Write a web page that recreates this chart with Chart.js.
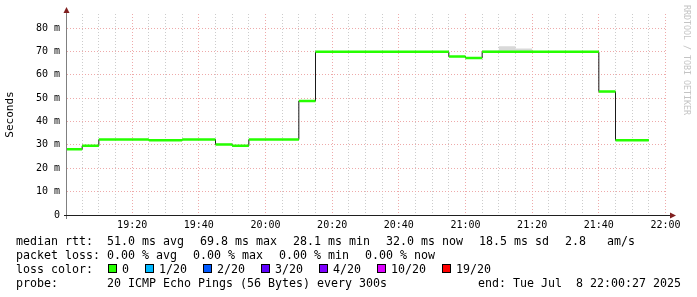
<!DOCTYPE html>
<html>
<head>
<meta charset="utf-8">
<script src="https://cdn.jsdelivr.net/npm/chart.js@4/dist/chart.umd.min.js"></script>
<style>
  html, body { margin: 0; padding: 0; background: #fff; }
  #wrap { position: relative; width: 697px; height: 297px; overflow: hidden; background: #fff; }
  #chart { position: absolute; left: 0; top: 0; }
  .t { position: absolute; font-family: "DejaVu Sans Mono", monospace; font-size: 11.63px;
       line-height: 14px; white-space: pre; color: #000; }
  .sq { position: absolute; width: 7px; height: 7px; border: 1px solid #000; }
</style>
</head>
<body>
<div id="wrap">
  <canvas id="chart" width="697" height="297"></canvas>

  <div class="t" style="left:16px;top:234px">median rtt:</div>
  <div class="t" style="left:107px;top:234px">51.0 ms avg</div>
  <div class="t" style="left:200px;top:234px">69.8 ms max</div>
  <div class="t" style="left:293px;top:234px">28.1 ms min</div>
  <div class="t" style="left:386px;top:234px">32.0 ms now</div>
  <div class="t" style="left:479px;top:234px">18.5 ms sd</div>
  <div class="t" style="left:565px;top:234px">2.8   am/s</div>

  <div class="t" style="left:16px;top:248px">packet loss:</div>
  <div class="t" style="left:107px;top:248px">0.00 % avg</div>
  <div class="t" style="left:193px;top:248px">0.00 % max</div>
  <div class="t" style="left:279px;top:248px">0.00 % min</div>
  <div class="t" style="left:365px;top:248px">0.00 % now</div>

  <div class="t" style="left:16px;top:262px">loss color:</div>
  <div id="loss"></div>

  <div class="t" style="left:16px;top:276px">probe:</div>
  <div class="t" style="left:107px;top:276px">20 ICMP Echo Pings (56 Bytes) every 300s</div>
  <div class="t" style="right:16px;top:276px">end: Tue Jul  8 22:00:27 2025</div>
</div>

<script>
'use strict'

// 5 minute bins, median rtt in ms
const binTimes = [
  '19:00', '19:05', '19:10', '19:15', '19:20', '19:25', '19:30', '19:35', '19:40', '19:45',
  '19:50', '19:55', '20:00', '20:05', '20:10', '20:15', '20:20', '20:25', '20:30', '20:35',
  '20:40', '20:45', '20:50', '20:55', '21:00', '21:05', '21:10', '21:15', '21:20', '21:25',
  '21:30', '21:35', '21:40', '21:45', '21:50'
]
const medianRtt = [
  28.1, 29.6, 32.3, 32.3, 32.3, 32.0, 32.0, 32.3, 32.3, 30.2,
  29.6, 32.3, 32.3, 32.3, 48.8, 69.8, 69.8, 69.8, 69.8, 69.8,
  69.8, 69.8, 69.8, 67.8, 67.2, 69.8, 69.8, 69.8, 69.8, 69.8,
  69.8, 69.8, 52.8, 32.0, 32.0
]
// top of the grey smoke (slowest ping), mostly hidden behind the median
const smokeTop = [
  28.1, 29.6, 32.3, 32.3, 32.3, 32.4, 32.4, 32.3, 32.3, 30.2,
  29.6, 32.3, 32.3, 32.3, 48.8, 69.8, 69.8, 69.8, 69.8, 69.8,
  69.8, 69.8, 69.8, 67.8, 67.2, 70.4, 72.2, 71.2, 69.8, 69.8,
  69.8, 69.8, 52.8, 32.0, 32.0
]

const xTickLabels = ['19:20', '19:40', '20:00', '20:20', '20:40', '21:00', '21:20', '21:40', '22:00']
const yTickValues = [0, 10, 20, 30, 40, 50, 60, 70, 80]
const yTickLabels = ['0', '10 m', '20 m', '30 m', '40 m', '50 m', '60 m', '70 m', '80 m']

const lossLabels = ['0', '1/20', '2/20', '3/20', '4/20', '10/20', '19/20']
const lossColors = ['#26ff00', '#00b8ff', '#0059ff', '#5e00ff', '#7e00ff', '#dd00ff', '#ff0000']

const endTime = '22:00:27'
const binMinutes = 5
const spanMinutes = 180
const yMax = 86

// legend box x positions
const lossBoxX = [108, 145, 203, 261, 319, 377, 442]

const MGRID = '#eeaaaa'
const GRID = '#cccccc'

const toMin = s => {
  const p = s.split(':').map(Number)
  return p[0] * 60 + p[1] + (p[2] || 0) / 60
}
const fmtMin = v => {
  const h = Math.floor(v / 60)
  const m = Math.round(v - h * 60)
  return h + ':' + String(m).padStart(2, '0')
}

const xMax = toMin(endTime)
const xMin = xMax - spanMinutes
const starts = binTimes.map(toMin)
const labelled = xTickLabels.map(toMin)

const stepPoints = vals => {
  const pts = starts.map((x, i) => ({ x, y: vals[i] }))
  pts.push({ x: starts[starts.length - 1] + binMinutes, y: vals[vals.length - 1] })
  return pts
}
// horizontal pieces only, so the green never runs down the step edges
const piecePoints = vals => starts.flatMap((x, i) => [
  { x, y: vals[i] },
  { x: x + binMinutes, y: vals[i] },
  { x: x + binMinutes, y: null }
])

const gridMinutes = []
for (let m = Math.ceil(xMin / binMinutes) * binMinutes; m <= xMax; m += binMinutes)
  gridMinutes.push(m)

const rrdAxes = {
  id: 'rrdAxes',
  afterDraw: chart => {
    const { ctx, chartArea: a } = chart
    ctx.save()

    ctx.lineWidth = 1
    ctx.strokeStyle = '#808080'
    ctx.beginPath()
    ctx.moveTo(a.left - 0.5, a.bottom + 4)
    ctx.lineTo(a.left - 0.5, a.top - 5)
    ctx.stroke()

    ctx.strokeStyle = '#1f1f1f'
    ctx.beginPath()
    ctx.moveTo(a.left - 3, a.bottom + 0.5)
    ctx.lineTo(a.right + 3, a.bottom + 0.5)
    ctx.stroke()

    ctx.fillStyle = '#801f1f'
    ctx.beginPath()
    ctx.moveTo(a.right + 3, a.bottom - 2.5)
    ctx.lineTo(a.right + 9, a.bottom + 0.5)
    ctx.lineTo(a.right + 3, a.bottom + 3.5)
    ctx.closePath()
    ctx.fill()

    ctx.beginPath()
    ctx.moveTo(a.left - 3.5, a.top - 1)
    ctx.lineTo(a.left - 0.5, a.top - 7)
    ctx.lineTo(a.left + 2.5, a.top - 1)
    ctx.closePath()
    ctx.fill()

    ctx.fillStyle = '#c4c4c4'
    ctx.font = '8.3px "DejaVu Sans Mono"'
    ctx.textBaseline = 'middle'
    ctx.textAlign = 'left'
    ctx.translate(686, 5)
    ctx.rotate(Math.PI / 2)
    ctx.fillText('RRDTOOL / TOBI OETIKER', 0, 0)

    ctx.restore()
  }
}

const tickFont = { family: 'DejaVu Sans Mono', size: 10 }

new Chart(document.getElementById('chart').getContext('2d'), {
  type: 'line',
  data: {
    datasets: [
      {
        label: 'median',
        data: piecePoints(medianRtt),
        borderColor: lossColors[0],
        borderWidth: 2.5,
        borderCapStyle: 'butt',
        pointRadius: 0,
        spanGaps: false,
        fill: false
      },
      {
        label: 'edges',
        data: stepPoints(medianRtt),
        stepped: true,
        borderColor: '#1a1a1a',
        borderWidth: 1,
        pointRadius: 0,
        fill: false
      },
      {
        label: 'smoke',
        data: stepPoints(smokeTop),
        stepped: true,
        borderWidth: 0,
        borderColor: 'rgba(0,0,0,0)',
        backgroundColor: '#d9d9d9',
        pointRadius: 0,
        fill: 1
      }
    ]
  },
  options: {
    responsive: false,
    animation: false,
    events: [],
    layout: { padding: { top: 14, right: 30, left: 0, bottom: 0 } },
    plugins: {
      legend: { display: false },
      tooltip: { enabled: false }
    },
    scales: {
      x: {
        type: 'linear',
        min: xMin,
        max: xMax,
        afterFit: s => { s.height = 82 },
        afterBuildTicks: s => { s.ticks = gridMinutes.map(value => ({ value })) },
        grid: {
          color: c => labelled.includes(c.tick.value) ? MGRID : GRID,
          lineWidth: 1,
          drawTicks: false,
          borderDash: [1, 2]
        },
        border: { display: false, dash: [1, 2] },
        ticks: {
          autoSkip: false,
          maxRotation: 0,
          padding: 4.5,
          color: '#000',
          font: tickFont,
          callback: v => labelled.includes(v) ? fmtMin(v) : ''
        }
      },
      y: {
        min: 0,
        max: yMax,
        afterFit: s => { s.width = 67 },
        afterBuildTicks: s => {
          const t = []
          for (let v = 0; v < yMax; v += 5) t.push({ value: v })
          s.ticks = t
        },
        grid: {
          color: c => yTickValues.includes(c.tick.value) ? MGRID : GRID,
          lineWidth: 1,
          drawTicks: false,
          borderDash: [1, 2]
        },
        border: { display: false, dash: [1, 2] },
        title: {
          display: true,
          text: 'Seconds',
          color: '#000',
          font: { family: 'DejaVu Sans Mono', size: 11 },
          padding: { top: 3.5, bottom: 0 }
        },
        ticks: {
          padding: 7,
          color: '#000',
          font: tickFont,
          callback: v => {
            const i = yTickValues.indexOf(v)
            return i >= 0 ? yTickLabels[i] : ''
          }
        }
      }
    }
  },
  plugins: [rrdAxes]
})

// loss colour legend boxes
const loss = document.getElementById('loss')
lossLabels.forEach((label, i) => {
  const box = document.createElement('div')
  box.className = 'sq'
  box.style.left = lossBoxX[i] + 'px'
  box.style.top = '264px'
  box.style.background = lossColors[i]
  loss.appendChild(box)

  const txt = document.createElement('div')
  txt.className = 't'
  txt.style.left = (lossBoxX[i] + 14) + 'px'
  txt.style.top = '262px'
  txt.textContent = label
  loss.appendChild(txt)
})
</script>
</body>
</html>
